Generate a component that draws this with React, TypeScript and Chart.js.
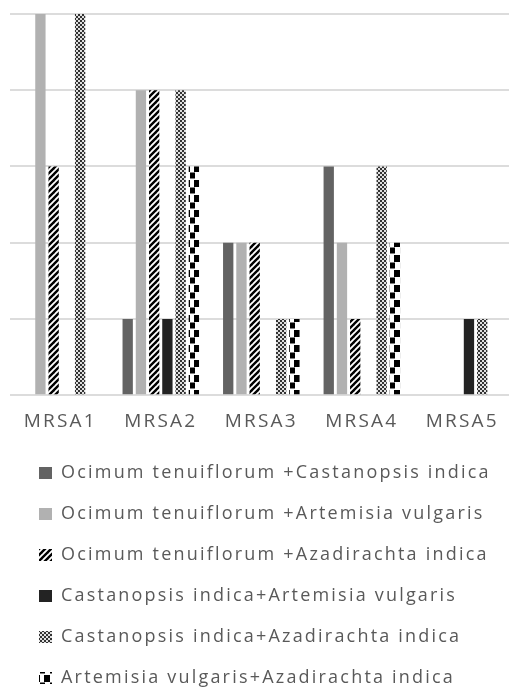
import { useEffect, useRef } from 'react';
import { Chart, registerables } from 'chart.js';

Chart.register(...registerables);

const categories = ['MRSA1', 'MRSA2', 'MRSA3', 'MRSA4', 'MRSA5'];

const seriesNames = [
  'Ocimum tenuiflorum +Castanopsis indica',
  'Ocimum tenuiflorum +Artemisia vulgaris',
  'Ocimum tenuiflorum +Azadirachta indica',
  'Castanopsis indica+Artemisia vulgaris',
  'Castanopsis indica+Azadirachta indica',
  'Artemisia vulgaris+Azadirachta indica',
];

const ocimumCastanopsis = [0, 1, 2, 3, 0];
const ocimumArtemisia = [5, 4, 2, 2, 0];
const ocimumAzadirachta = [3, 4, 2, 1, 0];
const castanopsisArtemisia = [0, 1, 0, 0, 1];
const castanopsisAzadirachta = [5, 4, 1, 3, 1];
const artemisiaAzadirachta = [0, 3, 1, 2, 0];

const yMin = 0;
const yMax = 5;
const yStep = 1;

const CANVAS_W = 514;
const CANVAS_H = 704;
const LEGEND_X = 39;
const LEGEND_ROW1_TOP = 464;
const TEXT_COLOR = '#595959';
const FONT_FAMILY = "'Open Sans', sans-serif";
const LETTER_SPACING = '2.2px';

function makeTile(w: number, h: number, draw: (c: CanvasRenderingContext2D) => void) {
  const cv = document.createElement('canvas');
  cv.width = w;
  cv.height = h;
  const c = cv.getContext('2d')!;
  draw(c);
  return cv;
}

function makePatterns(ctx: CanvasRenderingContext2D) {
  const diag = makeTile(6, 6, (c) => {
    c.fillStyle = '#ffffff';
    c.fillRect(0, 0, 6, 6);
    c.strokeStyle = '#000000';
    c.lineWidth = 2.4;
    c.lineCap = 'square';
    for (const o of [-6, 0, 6]) {
      c.beginPath();
      c.moveTo(o - 1, 7);
      c.lineTo(o + 7, -1);
      c.stroke();
    }
  });
  const smallChecker = makeTile(4, 4, (c) => {
    c.fillStyle = '#e0e0e0';
    c.fillRect(0, 0, 4, 4);
    c.fillStyle = '#333333';
    c.fillRect(0, 0, 2, 2);
    c.fillRect(2, 2, 2, 2);
  });
  const bigChecker = makeTile(10, 15, (c) => {
    c.fillStyle = '#ffffff';
    c.fillRect(0, 0, 10, 15);
    c.fillStyle = '#000000';
    c.fillRect(4, 0, 6, 7);
    c.fillRect(0, 7.5, 5, 6);
  });
  return {
    diag: ctx.createPattern(diag, 'repeat')!,
    smallChecker: ctx.createPattern(smallChecker, 'repeat')!,
    bigChecker: ctx.createPattern(bigChecker, 'repeat')!,
  };
}

const spacingPlugin = {
  id: 'letterSpacing',
  beforeUpdate(chart: any) {
    (chart.ctx as any).letterSpacing = LETTER_SPACING;
  },
  beforeLayout(chart: any) {
    (chart.ctx as any).letterSpacing = LETTER_SPACING;
  },
  beforeDraw(chart: any) {
    (chart.ctx as any).letterSpacing = LETTER_SPACING;
  },
};

const legendPlacePlugin = {
  id: 'legendPlace',
  afterLayout(chart: any) {
    const lg = chart.legend;
    if (!lg) return;
    const pad = lg.options.labels.padding;
    const w = lg.width;
    const h = lg.height;
    lg.left = LEGEND_X - pad;
    lg.right = lg.left + w;
    lg.top = LEGEND_ROW1_TOP - pad;
    lg.bottom = lg.top + h;
  },
};

export default function App() {
  const ref = useRef<HTMLCanvasElement | null>(null);

  useEffect(() => {
    const canvas = ref.current;
    if (!canvas) return;
    const ctx = canvas.getContext('2d')!;
    const p = makePatterns(ctx);

    const seriesValues = [
      ocimumCastanopsis,
      ocimumArtemisia,
      ocimumAzadirachta,
      castanopsisArtemisia,
      castanopsisAzadirachta,
      artemisiaAzadirachta,
    ];
    const fills: (string | CanvasPattern)[] = [
      '#636363',
      '#b1b1b1',
      p.diag,
      '#232323',
      p.smallChecker,
      p.bigChecker,
    ];

    const chart = new Chart(canvas, {
      type: 'bar',
      data: {
        labels: categories,
        datasets: seriesValues.map((vals, i) => ({
          label: seriesNames[i],
          data: vals,
          backgroundColor: fills[i] as any,
          borderWidth: 0,
          categoryPercentage: 0.79,
          barPercentage: 0.78,
        })),
      },
      options: {
        responsive: false,
        animation: false,
        devicePixelRatio: 1,
        layout: { padding: { left: 10, right: 1, top: 14, bottom: 0 } },
        plugins: {
          tooltip: { enabled: false },
          title: { display: false },
          legend: {
            display: true,
            position: 'bottom',
            align: 'start',
            labels: {
              boxWidth: 13,
              boxHeight: 12,
              padding: 23,
              color: TEXT_COLOR,
              font: { family: FONT_FAMILY, size: 18 },
            },
          },
        },
        scales: {
          x: {
            grid: { display: false, drawTicks: false },
            border: { display: false },
            ticks: {
              color: TEXT_COLOR,
              font: { family: FONT_FAMILY, size: 19 },
              padding: 15,
              maxRotation: 0,
              autoSkip: false,
            },
          },
          y: {
            min: yMin,
            max: yMax,
            ticks: { display: false, stepSize: yStep },
            grid: { color: '#dcdcdc', lineWidth: 2, drawTicks: false },
            border: { display: false },
          },
        },
      },
      plugins: [spacingPlugin, legendPlacePlugin],
    });

    return () => chart.destroy();
  }, []);

  return (
    <div
      style={{
        position: 'fixed',
        left: 0,
        top: 0,
        width: 509,
        height: 687,
        overflow: 'hidden',
        background: '#ffffff',
      }}
    >
      <canvas
        ref={ref}
        width={CANVAS_W}
        height={CANVAS_H}
        style={{ display: 'block', width: CANVAS_W, height: CANVAS_H }}
      />
    </div>
  );
}
